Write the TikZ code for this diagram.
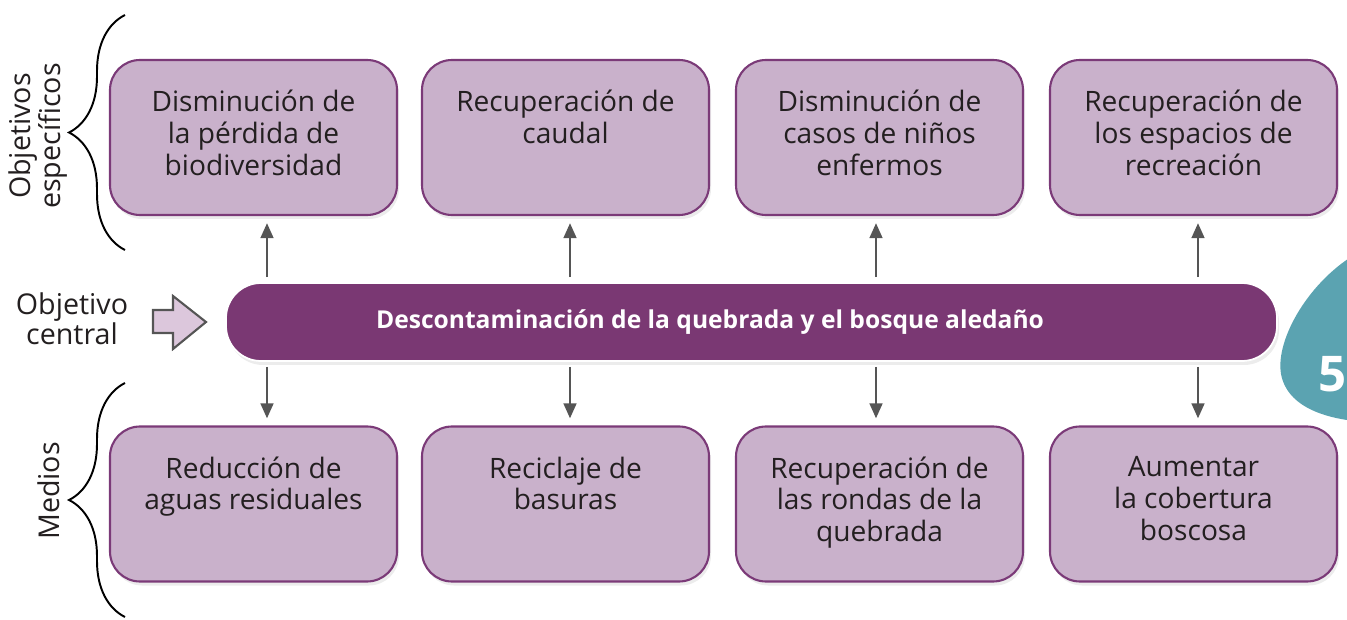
\documentclass[tikz,border=0pt]{standalone}
\usepackage{fontspec}
\setmainfont{Open Sans}
\usetikzlibrary{positioning,arrows.meta,decorations.pathreplacing,shadows}
\definecolor{boxfill}{HTML}{C9B1CB}
\definecolor{boxline}{HTML}{7B3A78}
\definecolor{barfill}{HTML}{7A3873}
\definecolor{arrowgray}{HTML}{555555}
\definecolor{tealblob}{HTML}{5BA3B1}
\definecolor{hollowfill}{HTML}{DCC7DC}
\definecolor{inktext}{HTML}{231F20}
\tikzset{
  box/.style={draw=boxline, line width=1.2pt, fill=boxfill, rounded corners=0.6cm,
    minimum width=5.74cm, minimum height=3.1cm,
    drop shadow={opacity=0.15, shadow xshift=0.04cm, shadow yshift=-0.08cm}},
  boxtext/.style={inner sep=0pt, align=center, text=inktext,
    font=\fontsize{16}{18}\selectfont, execute at begin node=\strut},
  updown/.style={draw=arrowgray, line width=1.6pt,
    -{Triangle[length=0.3cm, width=0.25cm]}},
  sidebrace/.style={decorate, decoration={brace, amplitude=1.12cm}, line width=1.1pt},
  sidelabel/.style={align=center, text=inktext, font=\fontsize{16.3}{17}\selectfont}
}
\begin{document}
\begin{tikzpicture}
  \useasboundingbox (0,0) rectangle (26.94,12.38);
  \fill[tealblob] (27.2,7.35) .. controls (26.2,6.8) and (25.5,5.6) .. (25.62,4.9)
    .. controls (25.75,4.2) and (26.6,4.0) .. (27.2,3.95) -- cycle;
  \node[text=white, font=\fontsize{28}{28}\selectfont\bfseries, anchor=east, inner sep=0pt] (num) at (26.93,4.9) {5};

  \node[box] (obj1) at (5.07,9.63) {};
  \node[box] (obj2) at (11.31,9.63) {};
  \node[box] (obj3) at (17.59,9.63) {};
  \node[box] (obj4) at (23.87,9.63) {};
  \node[box] (med1) at (5.07,2.30) {};
  \node[box] (med2) at (11.31,2.30) {};
  \node[box] (med3) at (17.59,2.30) {};
  \node[box] (med4) at (23.87,2.30) {};

  \node[boxtext, below=0.62cm of obj1.north] {Disminución de\\la pérdida de\\biodiversidad};
  \node[boxtext, below=0.62cm of obj2.north] {Recuperación de\\caudal};
  \node[boxtext, below=0.62cm of obj3.north] {Disminución de\\casos de niños\\enfermos};
  \node[boxtext, below=0.62cm of obj4.north] {Recuperación de\\los espacios de\\recreación};
  \node[boxtext, below=0.62cm of med1.north] {Reducción de\\aguas residuales};
  \node[boxtext, below=0.62cm of med2.north] {Reciclaje de\\basuras};
  \node[boxtext, below=0.62cm of med3.north] {Recuperación de\\las rondas de la\\quebrada};
  \node[boxtext, below=0.62cm of med4.north] {Aumentar\\la cobertura\\boscosa};

  \node[draw=white, line width=1pt, fill=barfill, rounded corners=0.7cm,
    minimum width=21.02cm, minimum height=1.56cm,
    drop shadow={opacity=0.15, shadow xshift=0.04cm, shadow yshift=-0.08cm}] (central) at (15.03,5.94) {};
  \node[text=white, font=\fontsize{14}{17}\selectfont\bfseries] (centraltxt) at (14.2,5.94)
    {Descontaminación de la quebrada y el bosque aledaño};

  \draw[updown] ([xshift=0.27cm, yshift=0.1cm]central.north -| obj1.south) -- ([xshift=0.27cm, yshift=-0.14cm]obj1.south);
  \draw[updown] ([xshift=0.09cm, yshift=0.1cm]central.north -| obj2.south) -- ([xshift=0.09cm, yshift=-0.14cm]obj2.south);
  \draw[updown] ([xshift=-0.07cm, yshift=0.1cm]central.north -| obj3.south) -- ([xshift=-0.07cm, yshift=-0.14cm]obj3.south);
  \draw[updown] ([xshift=0.09cm, yshift=0.1cm]central.north -| obj4.south) -- ([xshift=0.09cm, yshift=-0.14cm]obj4.south);
  \draw[updown] ([xshift=0.27cm, yshift=-0.1cm]central.south -| med1.north) -- ([xshift=0.27cm, yshift=0.14cm]med1.north);
  \draw[updown] ([xshift=0.09cm, yshift=-0.1cm]central.south -| med2.north) -- ([xshift=0.09cm, yshift=0.14cm]med2.north);
  \draw[updown] ([xshift=-0.07cm, yshift=-0.1cm]central.south -| med3.north) -- ([xshift=-0.07cm, yshift=0.14cm]med3.north);
  \draw[updown] ([xshift=0.09cm, yshift=-0.1cm]central.south -| med4.north) -- ([xshift=0.09cm, yshift=0.14cm]med4.north);

  \coordinate (objbot) at (2.5,7.38);
  \coordinate (objtop) at (2.5,12.08);
  \coordinate (medbot) at (2.5,0.04);
  \coordinate (medtop) at (2.5,4.72);
  \draw[sidebrace] (objbot) -- (objtop);
  \draw[sidebrace] (medbot) -- (medtop);
  \node[sidelabel, rotate=90] (objlabel) at (0.76,9.66) {Objetivos\\específicos};
  \node[sidelabel, rotate=90] (medlabel) at (0.98,2.56) {Medios};
  \node[sidelabel] (centrallabel) at (1.44,6.0) {Objetivo\\central};

  \draw[draw=arrowgray, fill=hollowfill, line width=1.2pt, line join=miter]
    (3.06,5.72) -- (3.46,5.72) -- (3.46,5.4) -- (4.12,5.94) -- (3.46,6.46)
    -- (3.46,6.18) -- (3.06,6.18) -- cycle;
\end{tikzpicture}
\end{document}
